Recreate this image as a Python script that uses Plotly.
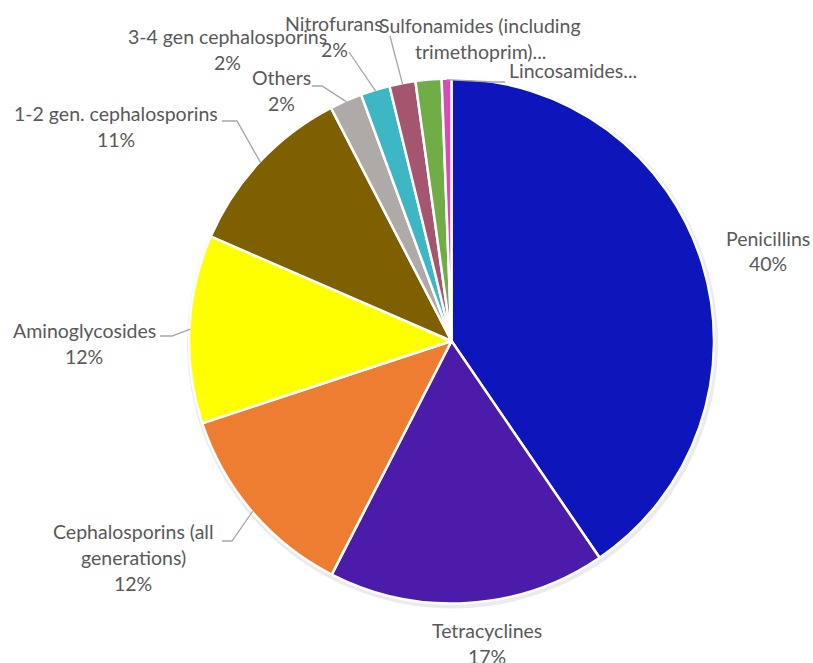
import math
import plotly.graph_objects as go

# ---- data ----
categories = ["Penicillins", "Tetracyclines", "Cephalosporins (all generations)",
              "Aminoglycosides", "1-2 gen. cephalosporins", "Others", "Nitrofurans",
              "Sulfonamides (including trimethoprim)", "3-4 gen cephalosporins", "Lincosamides"]
values = [40.5, 17.1, 12.4, 11.6, 10.9, 2.0, 1.8, 1.6, 1.6, 0.6]
colors = ["#0D16BB", "#4A1CA9", "#ED7D31", "#FFFF00", "#7F6000",
          "#ADAAA8", "#3EB7C4", "#A4566F", "#70AD47", "#D64DB6"]
# label text lines as shown
label_lines = [["Penicillins"], ["Tetracyclines"], ["Cephalosporins (all", "generations)"],
               ["Aminoglycosides"], ["1-2 gen. cephalosporins"], ["Others"], ["Nitrofurans"],
               ["Sulfonamides (including", "trimethoprim)..."], ["3-4 gen cephalosporins"],
               ["Lincosamides..."]]
show_pct = [True, True, True, True, True, True, True, False, True, False]

# ---- layout constants (pixels) ----
W, H = 813, 663
CX, CY, R = 451.5, 341.0, 262.5
LINE = 26
# label anchor: (center x, first line center y)
label_pos = [(768, 238), (487, 630), (133, 531), (84, 330), (116, 113),
             (281, 77), (334, 24), (480, 26), (227, 36), (573, 71)]
# leader start points (label side), with optional elbow point
leaders = {2: [(222, 541), (232, 541)], 3: [(160, 336), (172, 336)],
           4: [(222, 121), (237, 121)], 5: [(312, 86), (322, 86)],
           6: [(349, 52)], 7: [(390, 36)], 9: [(505, 82), (493, 82)]}

def px(x):
    return x / W

def py(y):
    return 1 - y / H

total = sum(values)
fig = go.Figure()

# soft shadow
fig.add_trace(go.Pie(values=[1], marker=dict(colors=["rgba(0,0,0,0.08)"]), textinfo="none",
                     hoverinfo="skip", showlegend=False, sort=False,
                     domain=dict(x=[px(CX - R - 2), px(CX + R + 4)], y=[py(CY + R + 5), py(CY - R - 1)])))

fig.add_trace(go.Pie(
    labels=categories, values=values, sort=False, direction="clockwise", rotation=0,
    marker=dict(colors=colors, line=dict(color="white", width=2.5)),
    textinfo="none", showlegend=False,
    domain=dict(x=[px(CX - R), px(CX + R)], y=[py(CY + R), py(CY - R)]),
))

annotations = []
shapes = []
cum = 0.0
for i, v in enumerate(values):
    frac = v / total
    mid = (cum + frac / 2) * 2 * math.pi
    cum += frac
    lines = list(label_lines[i])
    if show_pct[i]:
        lines.append(f"{round(frac * 100)}%")
    lx, ly = label_pos[i]
    for k, t in enumerate(lines):
        annotations.append(dict(text=t, x=px(lx), y=py(ly + k * LINE), xref="paper", yref="paper",
                                xanchor="center", yanchor="middle", showarrow=False,
                                font=dict(family="Lato", size=19.5, color="#595959")))
    if i in leaders:
        ex = CX + (R - 1) * math.sin(mid)
        ey = CY - (R - 1) * math.cos(mid)
        pts = leaders[i] + [(ex, ey)]
        path = "M " + " L ".join(f"{px(a)},{py(b)}" for a, b in pts)
        shapes.append(dict(type="path", path=path, xref="paper", yref="paper",
                           line=dict(color="#A6A6A6", width=1.3)))

fig.update_layout(width=W, height=H, margin=dict(l=0, r=0, t=0, b=0),
                  paper_bgcolor="white", plot_bgcolor="white",
                  annotations=annotations, shapes=shapes, showlegend=False)
fig.write_html("out.html", config={"displayModeBar": False},
               post_script="document.body.style.margin='0px';")
